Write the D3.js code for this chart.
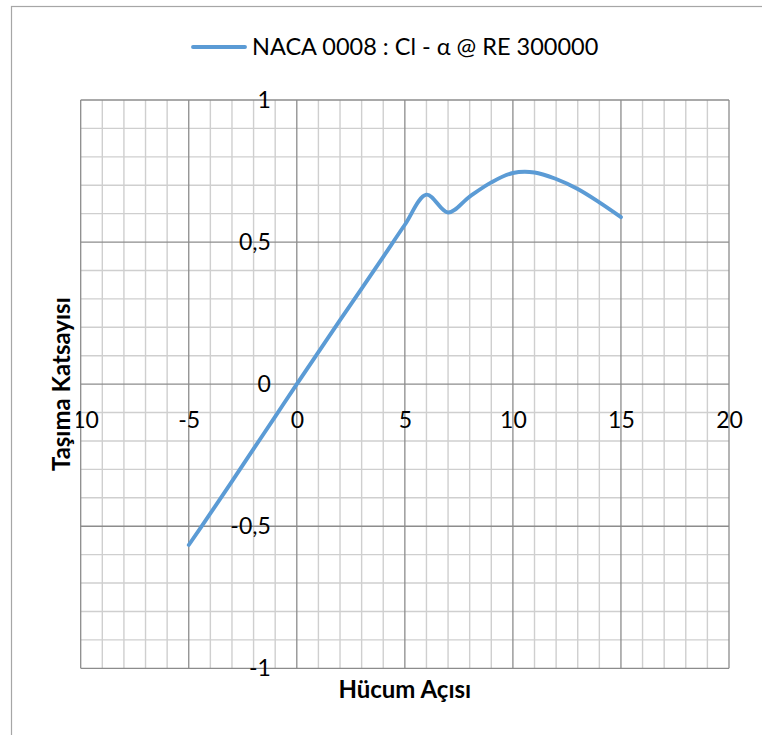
<!DOCTYPE html>
<html>
<head>
<meta charset="utf-8">
<script src="https://cdn.jsdelivr.net/npm/d3@7"></script>
<style>
  html, body { margin: 0; padding: 0; background: #fff; }
  svg { display: block; font-family: Lato, "Noto Sans", sans-serif; }
</style>
</head>
<body>
<svg id="chart" width="762" height="735"></svg>
<script>
// ---- data ----
const seriesName = "NACA 0008 : Cl - α @ RE 300000";
const alpha = [-5, -4, -3, -2, -1, 0, 1, 2, 3, 4, 5, 6, 7, 8, 9, 10, 11, 12, 13, 14, 15];
const cl = [-0.566, -0.455, -0.342, -0.228, -0.114, 0, 0.113, 0.225, 0.336, 0.448, 0.561,
            0.667, 0.604, 0.66, 0.71, 0.743, 0.745, 0.722, 0.687, 0.64, 0.588];
const xTicks = [-10, -5, 0, 5, 10, 15, 20];
const yTicks = [-1, -0.5, 0, 0.5, 1];
const xTitle = "Hücum Açısı";
const yTitle = "Taşıma Katsayısı";

// ---- layout ----
const svg = d3.select("#chart");
const x = d3.scaleLinear().domain([-10, 20]).range([80.7, 729]);
const y = d3.scaleLinear().domain([-1, 1]).range([668.3, 100]);

// outer chart frame
svg.append("rect")
  .attr("x", 11.5).attr("y", 6.5).attr("width", 800).attr("height", 800)
  .attr("fill", "#fff").attr("stroke", "#a6a6a6").attr("stroke-width", 1.2);

// grid
const minorX = d3.range(-10, 21, 1).filter(v => v % 5 !== 0);
const minorY = d3.range(-10, 11, 1).filter(v => v % 5 !== 0).map(v => v / 10);
const majorX = d3.range(-10, 21, 5);
const majorY = d3.range(-2, 3, 1).map(v => v / 2);

const grid = svg.append("g");
grid.selectAll(".mx").data(minorX).join("line")
  .attr("x1", d => x(d)).attr("x2", d => x(d))
  .attr("y1", y(1)).attr("y2", y(-1))
  .attr("stroke", "#cfcfcf").attr("stroke-width", 1.4);
grid.selectAll(".my").data(minorY).join("line")
  .attr("y1", d => y(d)).attr("y2", d => y(d))
  .attr("x1", x(-10)).attr("x2", x(20))
  .attr("stroke", "#cfcfcf").attr("stroke-width", 1.4);
grid.selectAll(".Mx").data(majorX).join("line")
  .attr("x1", d => x(d)).attr("x2", d => x(d))
  .attr("y1", y(1)).attr("y2", y(-1))
  .attr("stroke", "#8c8c8c").attr("stroke-width", 1.3);
grid.selectAll(".My").data(majorY).join("line")
  .attr("y1", d => y(d)).attr("y2", d => y(d))
  .attr("x1", x(-10)).attr("x2", x(20))
  .attr("stroke", "#8c8c8c").attr("stroke-width", 1.3);

const fmt = d => String(d).replace(".", ",");

// y axis (crossing at x = 0)
const yAxis = svg.append("g")
  .attr("transform", `translate(${x(0)},0)`)
  .call(d3.axisLeft(y).tickValues(yTicks).tickSize(0).tickPadding(26).tickFormat(fmt));
yAxis.select(".domain").remove();
yAxis.selectAll("text")
  .attr("font-family", "Lato, sans-serif").attr("font-size", 23).attr("fill", "#000");

// x axis (crossing at y = 0)
const xAxis = svg.append("g")
  .attr("transform", `translate(0,${y(0)})`)
  .call(d3.axisBottom(x).tickValues(xTicks).tickSize(0).tickFormat(fmt));
xAxis.select(".domain").remove();
xAxis.selectAll("text")
  .attr("y", 35.7).attr("dy", "0.35em")
  .attr("font-family", "Lato, sans-serif").attr("font-size", 23).attr("fill", "#000");

// series line
const pts = alpha.map((a, i) => [a, cl[i]]);
svg.append("path")
  .datum(pts)
  .attr("fill", "none")
  .attr("stroke", "#5B9BD5")
  .attr("stroke-width", 3.9)
  .attr("stroke-linecap", "round")
  .attr("stroke-linejoin", "round")
  .attr("d", d3.line().x(d => x(d[0])).y(d => y(d[1])).curve(d3.curveCatmullRom.alpha(0.5)));

// axis titles
svg.append("text")
  .attr("x", (x(-10) + x(20)) / 2).attr("y", 690).attr("dy", "0.35em")
  .attr("text-anchor", "middle")
  .attr("font-size", 24).attr("font-weight", "bold").attr("fill", "#000")
  .text(xTitle);

const yt = svg.append("g").attr("transform", `translate(62,${y(0)}) rotate(-90)`);
const ytText = yt.append("text")
  .attr("x", 0).attr("y", 0).attr("dy", "0.35em")
  .attr("text-anchor", "middle")
  .attr("font-size", 24).attr("font-weight", "bold").attr("fill", "#000")
  .text(yTitle);
const bb = ytText.node().getBBox();
yt.insert("rect", "text")
  .attr("x", bb.x - 2).attr("y", bb.y - 1).attr("width", bb.width + 4).attr("height", bb.height + 2)
  .attr("fill", "#fff");

// legend
const lg = svg.append("g");
lg.append("line")
  .attr("x1", 193).attr("x2", 245).attr("y1", 47).attr("y2", 47)
  .attr("stroke", "#5B9BD5").attr("stroke-width", 3.9).attr("stroke-linecap", "round");
lg.append("text")
  .attr("x", 252).attr("y", 47).attr("dy", "0.35em")
  .attr("font-size", 23.5).attr("fill", "#000")
  .text(seriesName);
</script>
</body>
</html>
